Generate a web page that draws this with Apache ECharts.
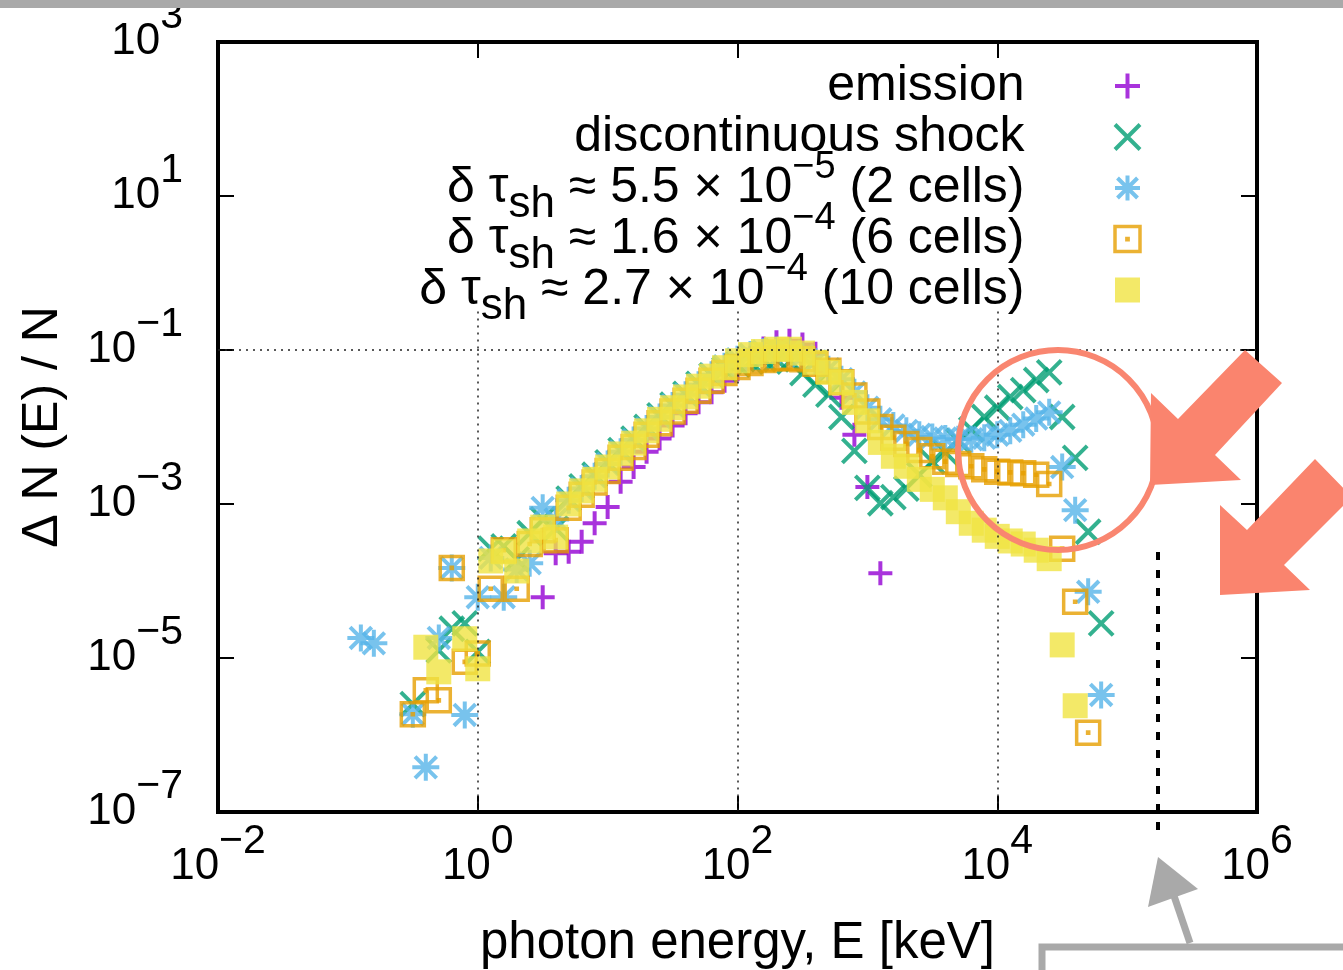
<!DOCTYPE html>
<html>
<head>
<meta charset="utf-8">
<script src="https://cdn.jsdelivr.net/npm/echarts@6/dist/echarts.min.js"></script>
<style>
  html, body { margin: 0; background: #fff; }
  #chart { width: 1343px; height: 970px; }
</style>
</head>
<body>
<div id="chart"></div>
<script>
// photon energy bins, log10(E / keV)
const energyExp = [
  -1.0, -0.9, -0.8, -0.7, -0.6, -0.5, -0.4, -0.3, -0.2, -0.1,
  0.0, 0.1, 0.2, 0.3, 0.4, 0.5, 0.6, 0.7, 0.8, 0.9,
  1.0, 1.1, 1.2, 1.3, 1.4, 1.5, 1.6, 1.7, 1.8, 1.9,
  2.0, 2.1, 2.2, 2.3, 2.4, 2.5, 2.6, 2.7, 2.8, 2.9,
  3.0, 3.1, 3.2, 3.3, 3.4, 3.5, 3.6, 3.7, 3.8, 3.9,
  4.0, 4.1, 4.2, 4.3, 4.4, 4.5, 4.6, 4.7, 4.8
]

// log10(ΔN(E)/N) per bin (null = no point)
const emission = [
  null, null, null, null, null, null, null, null, null, null,
  null, null, null, null, null, -4.21, -3.64, -3.62, -3.49, -3.25,
  -3.04, -2.71, -2.52, -2.32, -2.15, -1.98, -1.82, -1.68, -1.55, -1.40,
  -1.25, -1.10, -0.98, -0.90, -0.88, -0.93, -1.05, -1.28, -1.62, -2.10,
  -2.78, -3.90, null, null, null, null, null, null, null, null,
  null, null, null, null, null, null, null, null, null
]
const shock = [
  null, null, null, null, null, -5.60, null, -4.90, -4.62, -4.55,
  -4.92, -3.58, -3.55, -3.72, -3.38, -3.20, -3.32, -2.93, -2.77, -2.62,
  -2.46, -2.30, -2.15, -2.00, -1.85, -1.71, -1.57, -1.44, -1.33, -1.25,
  -1.19, -1.15, -1.12, -1.12, -1.15, -1.30, -1.45, -1.58, -1.87, -2.31,
  -2.79, -2.99, -2.91, -2.80, -2.62, -2.45, -2.33, -2.18, -2.03, -1.87,
  -1.75, -1.61, -1.52, -1.39, -1.29, -1.87, -2.40, -3.36, -4.55
]
const cells2 = [
  null, -4.74, -4.81, null, null, -5.73, -6.42, -4.74, -3.83, -5.74,
  -4.21, -3.70, -4.21, -3.85, -3.77, -3.05, -3.20, -2.95, -2.80, -2.64,
  -2.48, -2.32, -2.17, -2.02, -1.87, -1.72, -1.58, -1.45, -1.32, -1.21,
  -1.12, -1.06, -1.02, -1.00, -1.02, -1.08, -1.15, -1.25, -1.38, -1.55,
  -1.75, -1.90, -1.98, -2.05, -2.10, -2.13, -2.15, -2.16, -2.16, -2.14,
  -2.10, -2.05, -1.97, -1.89, -1.81, -2.52, -3.08, -4.14, -5.48
]
const cells6 = [
  null, null, null, null, null, -5.73, -5.42, -5.55, -3.83, -5.05,
  -4.94, -4.10, -3.60, -4.10, -3.52, -3.34, -3.47, -3.05, -2.88, -2.72,
  -2.57, -2.40, -2.26, -2.10, -1.95, -1.80, -1.66, -1.53, -1.40, -1.30,
  -1.22, -1.17, -1.13, -1.11, -1.10, -1.12, -1.18, -1.27, -1.42, -1.59,
  -1.80, -2.00, -2.14, -2.22, -2.30, -2.38, -2.45, -2.48, -2.51, -2.55,
  -2.58, -2.59, -2.60, -2.62, -2.74, -3.58, -4.27, -5.97, null
]
const cells10 = [
  null, null, null, null, null, null, -4.86, -5.18, null, -4.75,
  -5.14, -3.74, -3.62, -3.87, -3.48, -3.30, -3.43, -3.00, -2.83, -2.68,
  -2.52, -2.35, -2.21, -2.05, -1.90, -1.75, -1.61, -1.47, -1.34, -1.23,
  -1.14, -1.06, -1.02, -0.99, -0.99, -1.04, -1.16, -1.29, -1.42, -1.68,
  -1.92, -2.20, -2.38, -2.51, -2.68, -2.81, -2.92, -3.10, -3.25, -3.34,
  -3.42, -3.48, -3.52, -3.60, -3.71, -4.83, -5.62, null, null
]

const seriesNames = ['emission', 'discontinuous shock', '2 cells', '6 cells', '10 cells']
const legendLabels = {
  'emission': 'emission',
  'discontinuous shock': 'discontinuous shock',
  '2 cells': 'δ τ{sub|sh} ≈ 5.5 × 10{sup|−5} (2 cells)',
  '6 cells': 'δ τ{sub|sh} ≈ 1.6 × 10{sup|−4} (6 cells)',
  '10 cells': 'δ τ{sub|sh} ≈ 2.7 × 10{sup|−4} (10 cells)'
}
const colors = ['#9400d3', '#009e73', '#56b4e9', '#e69f00', '#f0e442']

const FONT = "'Liberation Sans', Helvetica, Arial, sans-serif"
const SYM_PLUS = 'path://M0,-10L0,10M-10,0L10,0'
const SYM_CROSS = 'path://M-10,-10L10,10M-10,10L10,-10'
const SYM_STAR = 'path://M0,-10L0,10M-10,0L10,0M-8,-8L8,8M-8,8L8,-8'
const SYM_BOXDOT = 'path://M-10,-10L10,-10L10,10L-10,10ZM-0.5,-0.5L0.5,-0.5L0.5,0.5L-0.5,0.5Z'
const SYM_BOX = 'path://M-10,-10L10,-10L10,10L-10,10Z'

function toPoints(values) {
  const pts = []
  values.forEach((v, i) => {
    if (v != null) pts.push([Math.pow(10, energyExp[i]), Math.pow(10, v)])
  })
  return pts
}

function expLabel(value) {
  const e = Math.round(Math.log10(value))
  return '{b|10}{s|' + (e < 0 ? '−' + (-e) : e) + '}'
}

const labelRich = {
  b: { fontSize: 44, lineHeight: 68, verticalAlign: 'bottom', fontFamily: FONT, color: '#000' },
  s: { fontSize: 41, lineHeight: 68, verticalAlign: 'top', fontFamily: FONT, color: '#000' }
}

const tick = { show: true, inside: true, length: 16, lineStyle: { color: '#000', width: 2 } }

function logAxis(extra) {
  return Object.assign({
    type: 'log',
    logBase: 10,
    axisLine: { show: false },
    axisTick: tick,
    splitLine: { show: false },
    minorTick: { show: false }
  }, extra)
}

const strokeStyle = (c) => ({ color: 'transparent', borderColor: c, borderWidth: 4 })
const symbols = [SYM_PLUS, SYM_CROSS, SYM_STAR, SYM_BOXDOT, SYM_BOX]
const sizes = [24, 24, 27, 23, 25]
const styles = [
  strokeStyle(colors[0]), strokeStyle(colors[1]), strokeStyle(colors[2]),
  { color: 'transparent', borderColor: colors[3], borderWidth: 3.5 },
  { color: colors[4] }
]
const seriesData = [emission, shock, cells2, cells6, cells10]

const chart = echarts.init(document.getElementById('chart'))

const scatterSeries = seriesNames.map((name, i) => ({
  name,
  type: 'scatter',
  z: 2,
  symbol: symbols[i],
  symbolSize: sizes[i],
  itemStyle: styles[i],
  emphasis: { disabled: true },
  data: toPoints(seriesData[i])
}))

const gridDash = { color: '#222', type: [2, 5], width: 1.5 }

chart.setOption({
  animation: false,
  backgroundColor: '#fff',
  textStyle: { fontFamily: FONT },
  grid: {
    left: 218, top: 42, width: 1039, height: 770,
    outerBoundsMode: 'none', containLabel: false,
    show: true, borderColor: '#000', borderWidth: 4, backgroundColor: 'transparent'
  },
  xAxis: [
    logAxis({
      min: 1e-2, max: 1e6, interval: 2, position: 'bottom',
      name: 'photon energy, E [keV]', nameLocation: 'middle', nameGap: 106,
      nameTextStyle: { fontSize: 51, color: '#000', fontFamily: FONT },
      axisLabel: { formatter: expLabel, rich: labelRich, fontSize: 44, margin: 9, color: '#000' }
    }),
    logAxis({ min: 1e-2, max: 1e6, interval: 2, position: 'top', axisLabel: { show: false } })
  ],
  yAxis: [
    logAxis({
      min: 1e-7, max: 1e3, interval: 2, position: 'left',
      name: 'Δ N (E) / N', nameLocation: 'middle', nameGap: 150,
      nameTextStyle: { fontSize: 50, color: '#000', fontFamily: FONT },
      axisLabel: { formatter: expLabel, rich: labelRich, fontSize: 44, margin: 35, padding: [0, 0, 24, 0], color: '#000' }
    }),
    logAxis({ min: 1e-7, max: 1e3, interval: 2, position: 'right', axisLabel: { show: false } })
  ],
  legend: {
    orient: 'vertical',
    align: 'right',
    right: 201,
    top: 47,
    padding: 0,
    itemGap: -27,
    itemWidth: 196,
    itemHeight: 25,
    selectedMode: false,
    formatter: (name) => legendLabels[name],
    textStyle: {
      fontSize: 50, lineHeight: 78, color: '#000', fontFamily: FONT,
      rich: {
        sub: { fontSize: 44, lineHeight: 78, verticalAlign: 'bottom', fontFamily: FONT, color: '#000' },
        sup: { fontSize: 38, lineHeight: 78, verticalAlign: 'top', fontFamily: FONT, color: '#000' }
      }
    },
    data: seriesNames.map((name, i) => ({ name, icon: symbols[i], itemStyle: styles[i] }))
  },
  series: [
    {
      type: 'line',
      data: [],
      silent: true,
      z: 1,
      markLine: {
        silent: true,
        symbol: ['none', 'none'],
        label: { show: false },
        lineStyle: gridDash,
        emphasis: { disabled: true },
        data: [
          { yAxis: 1e-1 }, { yAxis: 1e-3 }, { yAxis: 1e-5 },
          [{ coord: [1, Math.pow(10, -0.5)] }, { coord: [1, 1e-7] }],
          [{ coord: [1e2, Math.pow(10, -0.5)] }, { coord: [1e2, 1e-7] }],
          [{ coord: [1e4, Math.pow(10, -0.5)] }, { coord: [1e4, 1e-7] }]
        ]
      }
    }
  ].concat(scatterSeries),
  graphic: [
    // sketch annotations drawn over the figure
    { type: 'rect', z: 100, shape: { x: 0, y: 0, width: 1343, height: 8 }, style: { fill: '#a9a9a9' } },
    { type: 'circle', z: 100, shape: { cx: 1058, cy: 450, r: 100 }, style: { fill: 'none', stroke: '#f98670', lineWidth: 6 } },
    { type: 'polygon', z: 100, shape: { points: [[1150, 485], [1151, 393], [1178, 419], [1245, 350], [1282, 383], [1215, 455], [1241, 480]] }, style: { fill: '#fa846e' } },
    { type: 'polygon', z: 100, shape: { points: [[1220, 595], [1220, 505], [1247, 530], [1315, 459], [1352, 497], [1284, 565], [1310, 590]] }, style: { fill: '#fa846e' } },
    { type: 'line', z: 100, shape: { x1: 1158, y1: 552, x2: 1158, y2: 838 }, style: { stroke: '#000', lineWidth: 4, lineDash: [8, 10] } },
    { type: 'polyline', z: 100, shape: { points: [[1042, 975], [1042, 947], [1350, 947]] }, style: { stroke: '#a9a9a9', lineWidth: 7, fill: null } },
    { type: 'line', z: 100, shape: { x1: 1190, y1: 943, x2: 1172, y2: 890 }, style: { stroke: '#a9a9a9', lineWidth: 7 } },
    { type: 'polygon', z: 100, shape: { points: [[1158, 857], [1148, 907], [1198, 889]] }, style: { fill: '#a9a9a9' } }
  ]
})
</script>
</body>
</html>
